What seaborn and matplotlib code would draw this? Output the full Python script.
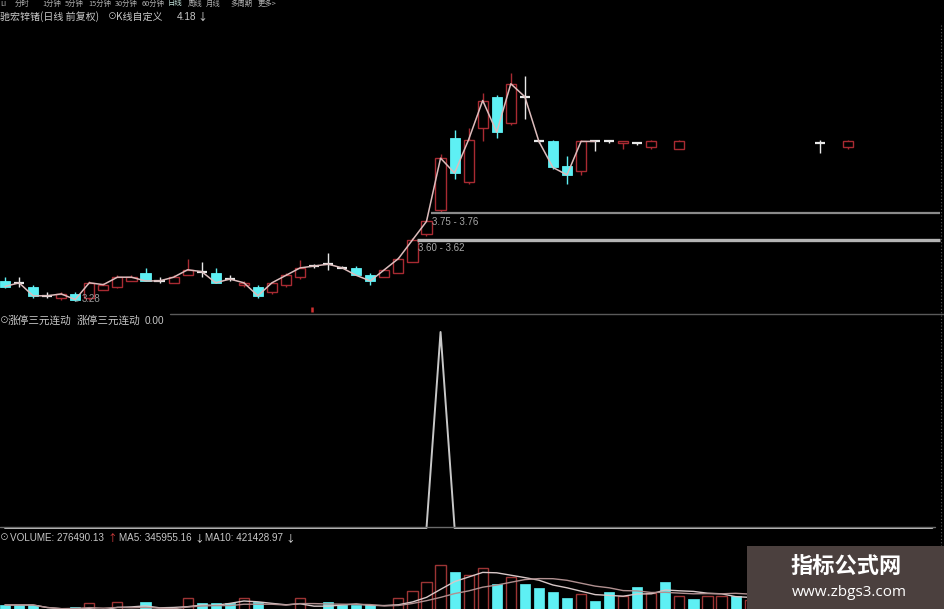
import numpy as np
import pandas as pd
import matplotlib
matplotlib.use("Agg")
import matplotlib.pyplot as plt
import seaborn as sns
from matplotlib.patches import Rectangle
from matplotlib.lines import Line2D

nan = np.nan

# ---------------- data ----------------
stock_title = "驰宏锌锗(日线 前复权)"
kline_label = "K线自定义"
last_price = "4.18"
period_tabs = ["LI", "分时", "1分钟", "5分钟", "15分钟", "30分钟", "60分钟",
               "日线", "周线", "月线", "多周期", "更多>"]
indicator_name = "涨停三元连动"
indicator_value = "0.00"

opens = [3.39, 3.38, 3.36, 3.31, 3.30, 3.32, 3.30, 3.34, 3.36, 3.39,
         3.43, 3.39, 3.38, 3.42, 3.44, 3.43, 3.40, 3.37, 3.36, 3.33,
         3.37, 3.41, 3.47, 3.48, 3.46, 3.46, 3.42, 3.41, 3.43, 3.49,
         3.64, 3.77, 4.16, 3.92, 4.21, 4.38, 4.24, 4.38, 4.14, 4.14,
         4.01, 3.98, 4.14, 4.14, 4.13, 4.13, 4.11, nan, 4.10, nan,
         nan, nan, nan, nan, nan, nan, nan, nan, 4.13, nan,
         4.11, nan, nan, nan, nan, nan, nan]
highs = [3.41, 3.41, 3.37, 3.33, 3.33, 3.33, 3.39, 3.38, 3.42, 3.42,
         3.46, 3.41, 3.42, 3.51, 3.49, 3.46, 3.42, 3.39, 3.37, 3.38,
         3.43, 3.50, 3.48, 3.54, 3.47, 3.47, 3.43, 3.45, 3.52, 3.62,
         3.72, 4.07, 4.20, 4.21, 4.40, 4.39, 4.51, 4.49, 4.15, 4.15,
         4.06, 4.15, 4.14, 4.15, 4.14, 4.13, 4.15, nan, 4.15, nan,
         nan, nan, nan, nan, nan, nan, nan, nan, 4.15, nan,
         4.15, nan, nan, nan, nan, nan, nan]
lows = [3.35, 3.36, 3.30, 3.30, 3.29, 3.28, 3.29, 3.34, 3.35, 3.39,
        3.39, 3.38, 3.38, 3.42, 3.41, 3.38, 3.39, 3.36, 3.30, 3.32,
        3.36, 3.40, 3.46, 3.45, 3.46, 3.42, 3.37, 3.41, 3.43, 3.49,
        3.63, 3.76, 3.94, 3.91, 4.14, 4.16, 4.23, 4.26, 4.13, 3.99,
        3.91, 3.96, 4.09, 4.13, 4.10, 4.12, 4.10, nan, 4.10, nan,
        nan, nan, nan, nan, nan, nan, nan, nan, 4.08, nan,
        4.10, nan, nan, nan, nan, nan, nan]
closes = [3.36, 3.38, 3.31, 3.31, 3.32, 3.29, 3.38, 3.37, 3.41, 3.41,
          3.39, 3.39, 3.41, 3.45, 3.44, 3.38, 3.40, 3.38, 3.31, 3.38,
          3.42, 3.46, 3.47, 3.48, 3.46, 3.42, 3.39, 3.45, 3.51, 3.61,
          3.71, 4.05, 3.97, 4.15, 4.36, 4.19, 4.45, 4.38, 4.14, 4.00,
          3.96, 4.14, 4.14, 4.14, 4.14, 4.13, 4.14, nan, 4.14, nan,
          nan, nan, nan, nan, nan, nan, nan, nan, 4.13, nan,
          4.14, nan, nan, nan, nan, nan, nan]
# u = up (red hollow), d = down (cyan), f = flat / doji
direction = list("dfdfuduuuu" "dfuufdfudu" "uufffdduuu" "uuduuduffd"
                 "duffufudud" "uudududdfu" "udududu")
volume = [420000, 420000, 420000, 300000, 320000, 396000, 444000, 340000, 456000, 350000,
          456000, 330000, 360000, 504000, 444000, 444000, 444000, 504000, 456000, 350000,
          360000, 504000, 360000, 456000, 420000, 420000, 420000, 350000, 504000, 588000,
          696000, 900000, 816000, 780000, 864000, 672000, 756000, 672000, 624000, 576000,
          504000, 552000, 468000, 576000, 528000, 636000, 564000, 696000, 528000, 492000,
          528000, 528000, 528000, 480000, 500000, 460000, 440000, 520000, 500000, 490000,
          500000, 474513.9, 400000, 380000, 350000, 323285.67, 276490.13]
signal = [0] * 31 + [1] + [0] * 35

levels = [3.755, 3.61]
level_labels = ["3.75 - 3.76", "3.60 - 3.62"]
level_start = [30, 29]
low_idx = 5
low_label = "3.28"
marker_idx = [22]

# ---------------- style ----------------
sns.set_theme(style="dark", rc={"axes.facecolor": "black", "figure.facecolor": "black",
                                "savefig.facecolor": "black"})
plt.rcParams["font.family"] = ["Noto Sans CJK SC", "DejaVu Sans"]

RED = "#a82a32"
CYAN = "#5ef0f4"
WHITE = "#e8e8e8"
LINE = "#dcbcbc"
TXT = "#c8c8c8"

W, H = 945, 609
fig = plt.figure(figsize=(W / 100, H / 100), dpi=100)


def fx(px):
    return px / W


def fy(py):
    return 1 - py / H


def add_axes(top, bottom):
    ax = fig.add_axes([0, fy(bottom), 1, (bottom - top) / H])
    ax.set_facecolor("black")
    ax.set_xticks([])
    ax.set_yticks([])
    for s in ax.spines.values():
        s.set_visible(False)
    return ax


n = len(volume)
idx = np.arange(n)
pitch, x0 = 14.05, 5.0
xlim = (-x0 / pitch, (W - x0) / pitch)

ax_p = add_axes(25, 313)
ax_i = add_axes(315, 530)
ax_v = add_axes(530, 609)
for ax in (ax_p, ax_i, ax_v):
    ax.set_xlim(*xlim)

# ---------------- price panel ----------------
ax_p.set_ylim(3.61 - 73 / 186, 3.61 + 215 / 186)
o = np.array(opens); h = np.array(highs); l = np.array(lows); c = np.array(closes)
dirs = np.array(direction)
bw = 0.72
for i in range(n):
    if np.isnan(o[i]):
        continue
    col = {"u": RED, "d": CYAN, "f": WHITE}[dirs[i]]
    ax_p.vlines(i, l[i], h[i], color=col, lw=1.0, zorder=2)
    if dirs[i] == "f" or abs(c[i] - o[i]) < 0.004:
        ax_p.hlines(o[i], i - bw / 2, i + bw / 2, color=col, lw=1.6, zorder=3)
    elif dirs[i] == "u":
        ax_p.bar(i, c[i] - o[i], bottom=o[i], width=bw, facecolor="black",
                 edgecolor=RED, lw=1.0, zorder=3)
    else:
        ax_p.bar(i, c[i] - o[i], bottom=o[i], width=bw, facecolor=CYAN,
                 edgecolor=CYAN, lw=0.6, zorder=3)

# close line
ax_p.plot(idx[:43], c[:43], color=LINE, lw=1.1, zorder=4)

# level lines
for lev, lab, st, lw, colr in zip(levels, level_labels, level_start, [1.6, 2.4],
                                  ["#8a8a8a", "#b4b4b4"]):
    ax_p.hlines(lev, st + 0.3, (940 - x0) / pitch, color=colr, lw=lw, zorder=5)
    ax_p.annotate(lab, (st + 0.3, lev), xytext=(1, -2.5), textcoords="offset points",
                  ha="left", va="top", fontsize=7, color="#a8a8a8",
                  family=["Liberation Sans", "DejaVu Sans"])

# low label
ax_p.annotate(low_label, (low_idx, lows[low_idx]), xytext=(4.5, 1.5),
              textcoords="offset points", ha="left", va="center", fontsize=7,
              color="#9a9a9a", family=["Liberation Sans", "DejaVu Sans"],
              arrowprops=dict(arrowstyle="-", color="#9a9a9a", lw=0.6,
                              shrinkA=0, shrinkB=0))
for m in marker_idx:
    ax_p.vlines(m - 0.15, 3.222, 3.25, color="#d03030", lw=1.8)

# ---------------- indicator panel ----------------
ax_i.set_ylim(-2 / 196, (528 - 315) / 196)
sns.lineplot(x=idx, y=signal, ax=ax_i, color="#c8c8c8", lw=1.4, legend=False)
ax_i.set_xlim(*xlim)
ax_i.set_xlabel(""); ax_i.set_ylabel("")

# ---------------- volume panel ----------------
vol = pd.Series(volume)
for i in range(n):
    if dirs[i] == "u":
        ax_v.bar(i, volume[i], width=bw, facecolor="black", edgecolor="#9c3434", lw=1.0)
    else:
        ax_v.bar(i, volume[i], width=bw, facecolor=CYAN, edgecolor=CYAN, lw=0.5)
ma5 = vol.rolling(5, min_periods=1).mean()
ma10 = vol.rolling(10, min_periods=1).mean()
sns.lineplot(x=idx, y=ma5.values, ax=ax_v, color="#d8c8c8", lw=1.0, legend=False)
sns.lineplot(x=idx, y=ma10.values, ax=ax_v, color="#b09090", lw=1.0, legend=False)
ax_v.set_xlim(*xlim)
ax_v.set_ylim(372000, 1320000)
ax_v.set_xlabel(""); ax_v.set_ylabel("")

# ---------------- frame lines ----------------
fig.add_artist(Line2D([fx(170), 1], [fy(314), fy(314)], color="#5a5a5a", lw=1.0))
fig.add_artist(Line2D([0, fx(935)], [fy(526.5), fy(526.5)], color="#6a6a6a", lw=1.0))
fig.add_artist(Line2D([fx(941), fx(941)], [fy(25), fy(609)], color="#5a5a5a", lw=0.8,
                      ls=(0, (1, 2))))

# ---------------- texts ----------------
cjk = ["Noto Sans CJK SC", "DejaVu Sans"]
lat = ["Liberation Sans", "DejaVu Sans"]
tab_x = [0, 15, 42, 65, 88, 115, 142, 168, 188, 206, 230, 258]
for tx, t in zip(tab_x, period_tabs):
    fig.text(fx(tx), fy(3.5), t, fontsize=5.3, color="#b0b0b0" if t != "日线" else "#c8e8e0",
             va="center", ha="left", family=cjk)

fig.text(fx(0), fy(17), stock_title, fontsize=7.2, color=TXT, va="center", family=cjk)
fig.text(fx(108), fy(17), "⊙", fontsize=6.5, color=TXT, va="center", family=cjk)
fig.text(fx(116), fy(17), kline_label, fontsize=7.2, color=TXT, va="center", family=cjk)
fig.text(fx(177), fy(17), last_price, fontsize=7.2, color=TXT, va="center", family=lat)
fig.text(fx(197), fy(17), "↓", fontsize=7.2, color=WHITE, va="center", family=cjk)

fig.text(fx(0), fy(321), "⊙", fontsize=6.5, color=TXT, va="center", family=cjk)
fig.text(fx(8), fy(321), indicator_name, fontsize=7.7, color=TXT, va="center", family=cjk)
fig.text(fx(77), fy(321), indicator_name, fontsize=7.7, color=TXT, va="center", family=cjk)
fig.text(fx(145), fy(321), indicator_value, fontsize=7.2, color=TXT, va="center", family=lat)

fig.text(fx(0), fy(538), "⊙", fontsize=6.5, color=TXT, va="center", family=cjk)
fig.text(fx(10), fy(538), f"VOLUME: {volume[-1]:.2f}", fontsize=7.1, color=TXT,
         va="center", family=lat)
fig.text(fx(107), fy(538), "↑", fontsize=7.0, color="#e04040", va="center", family=cjk)
fig.text(fx(119), fy(538), f"MA5: {ma5.iloc[-1]:.2f}", fontsize=7.1, color=TXT,
         va="center", family=lat)
fig.text(fx(194), fy(538), "↓", fontsize=7.0, color=WHITE, va="center", family=cjk)
fig.text(fx(205), fy(538), f"MA10: {ma10.iloc[-1]:.2f}", fontsize=7.1, color=TXT,
         va="center", family=lat)
fig.text(fx(285), fy(538), "↓", fontsize=7.0, color=WHITE, va="center", family=cjk)

# watermark
fig.add_artist(Rectangle((fx(747), 0), fx(945) - fx(747), fy(546), transform=fig.transFigure,
                         facecolor="#4b403e", edgecolor="none", zorder=10))
fig.text(fx(846), fy(566), "指标公式网", fontsize=16, color="white", weight="bold",
         ha="center", va="center", family=cjk, zorder=11)
fig.text(fx(849), fy(593), "www.zbgs3.com", fontsize=11, color="white",
         ha="center", va="center", family=["Open Sans", "DejaVu Sans"], zorder=11)

fig.savefig("out.png", dpi=100, facecolor="black")
